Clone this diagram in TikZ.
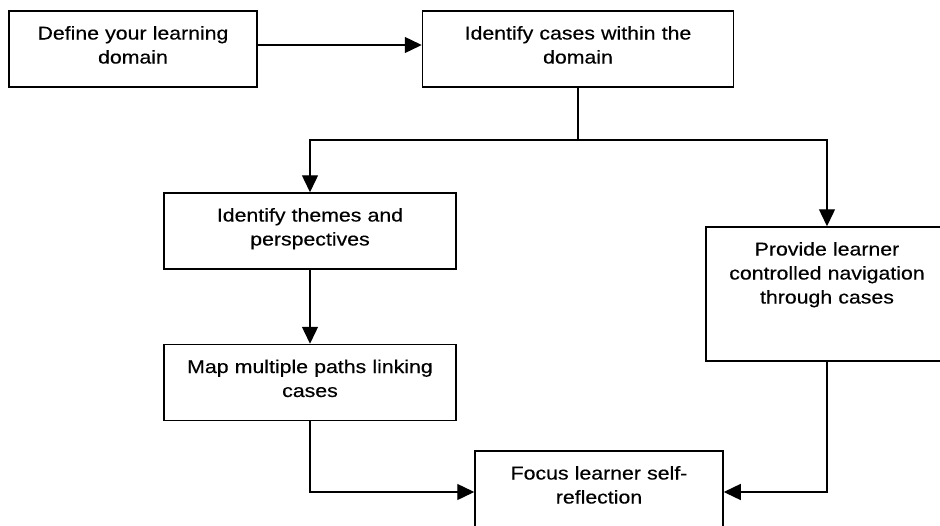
\documentclass[tikz,border=0pt]{standalone}
\usepackage{fontspec}
\setmainfont{Liberation Sans}[FakeStretch=1.15,FakeBold=0.4]
\usepackage{tikz}
\usetikzlibrary{arrows.meta,positioning}
\tikzset{
  stage/.style={
    draw=black,
    line width=1.5pt,
    inner sep=0pt,
    align=center,
    text height=28.5pt,
    font=\fontsize{18.5}{24}\selectfont
  },
  arrow/.style={
    -{Triangle[length=17pt,width=16pt]},
    line width=1.4pt
  }
}
\begin{document}
\begin{tikzpicture}[x=1pt,y=-1pt]
\useasboundingbox (0,0) rectangle (940,525);
\clip (0,0) rectangle (940,525);
\node[stage, text width=248pt, text depth=47.5pt] (define) at (133,49) {Define your learning\\domain};
\node[stage, text width=311pt, text depth=47.5pt, right=164pt of define] (cases) {Identify cases within the\\domain};
\node[stage, text width=292pt, text depth=47.5pt] (themes) at (310,231) {Identify themes and\\perspectives};
\node[stage, text width=292pt, text depth=47.5pt, below=74pt of themes] (map) {Map multiple paths linking\\cases};
\node[stage, text width=242pt, text depth=105.5pt] (provide) at (827,294) {Provide learner\\controlled navigation\\through cases};
\node[stage, text width=248pt, text depth=53.5pt] (focus) at (599,492) {Focus learner self-\\reflection};
\coordinate (split) at (cases.south |- 0,140);
\draw[arrow] ([yshift=4pt]define.east) -- ([yshift=4pt]cases.west);
\draw[line width=1.4pt] (cases.south) -- (split);
\draw[arrow] (split) -| (themes.north);
\draw[arrow] (split) -| (provide.north);
\draw[arrow] (themes) -- (map);
\draw[arrow] (map.south) |- (focus.west);
\draw[arrow] (provide.south) |- (focus.east);
\end{tikzpicture}
\end{document}
